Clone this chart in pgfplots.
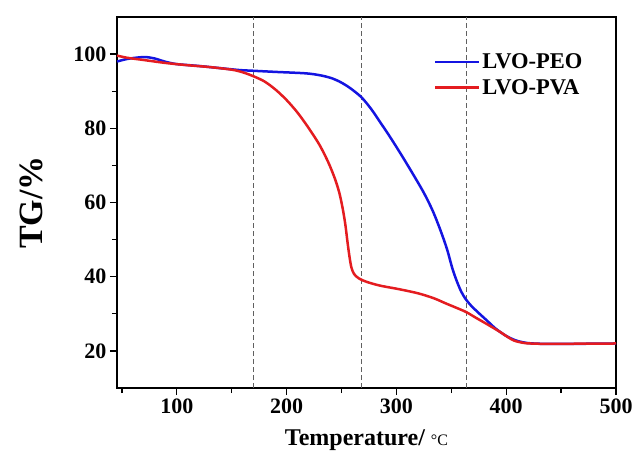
\documentclass[border=0pt]{standalone}
\usepackage{fontspec}
\setmainfont{Liberation Serif}
\usepackage{pgfplots}
\pgfplotsset{compat=1.18}
\definecolor{cblue}{RGB}{20,20,225}
\definecolor{cred}{RGB}{228,28,32}
\begin{document}
\begin{tikzpicture}
\begin{axis}[
  scale only axis, width=499pt, height=371pt,
  xmin=45.5, xmax=500, ymin=10, ymax=110,
  xtick={100,200,300,400,500}, minor xtick={50,150,250,350,450},
  ytick={20,40,60,80,100}, minor ytick={30,50,70,90},
  tick pos=left, tick align=outside,
  major tick length=7pt, minor tick length=5pt,
  every tick/.style={black, line width=1.3pt},
  axis line style={line width=1.7pt},
  /pgf/number format/assume math mode=true,
  ticklabel style={font=\fontsize{22}{24}\selectfont\bfseries},
  xlabel={Temperature/ {\mdseries\fontsize{16}{18}\selectfont °C}},
  ylabel={TG/\%},
  xlabel style={font=\fontsize{24}{26}\selectfont\bfseries, at={(axis description cs:0.5,-0.14)}, anchor=center},
  ylabel style={font=\fontsize{34}{36}\selectfont\bfseries, at={(axis description cs:-0.172,0.5)}, anchor=center},
  legend style={draw=none, fill=none, at={(rel axis cs:0.943,0.912)}, anchor=north east,
    font=\fontsize{22.5}{24}\selectfont\bfseries, row sep=5pt, nodes={inner sep=2pt}},
  legend cell align=left,
  legend image code/.code={\draw[#1] (0pt,0pt) -- (44pt,0pt);},
]
\coordinate (sw) at (rel axis cs:0,0);
\coordinate (ne) at (rel axis cs:1,1);
\addplot[gray!75!black, dash pattern=on 5pt off 3pt, line width=1pt, forget plot] coordinates {(170,10) (170,110)};
\addplot[gray!75!black, dash pattern=on 5pt off 3pt, line width=1pt, forget plot] coordinates {(268,10) (268,110)};
\addplot[gray!75!black, dash pattern=on 5pt off 3pt, line width=1pt, forget plot] coordinates {(364,10) (364,110)};
\addplot[cblue, line width=2.5pt, smooth, tension=0.5] coordinates {
(45.5,98.0) (55,98.7) (65,99.1) (72,99.2) (80,98.8) (90,97.9) (100,97.3) (120,96.8) (140,96.2)
(157,95.7) (170,95.5) (190,95.2) (218,94.8) (232,94.2) (242,93.4) (250,92.3) (258,90.8)
(268,88.4) (277,85.2) (286,81.3) (295,77.3) (305,72.6) (315,67.7) (325,62.6) (333,57.8)
(340,52.6) (346,47.5) (351,42.2) (355,38.8) (359,36.0) (363,34.0) (368,32.2) (375,30.2) (382,28.3)
(390,26.1) (396,24.8) (402,23.7) (410,22.7) (420,22.1) (435,21.9) (460,21.9) (500,22.0)};
\addlegendentry{LVO-PEO}
\addplot[cred, line width=2.5pt, smooth, tension=0.5] coordinates {
(45.5,99.6) (55,99.0) (70,98.4) (90,97.6) (110,97.0) (130,96.5) (150,95.8) (160,95.1)
(170,94.0) (180,92.6) (190,90.4) (200,87.6) (210,84.2) (220,80.1) (230,75.5) (238,70.8)
(244,66.4) (248,62.6) (251,58.5) (253.5,54) (255.5,49.2) (257.3,45.3) (259,42.5) (261.5,40.7)
(266,39.5) (273,38.6) (285,37.6) (303,36.6) (320,35.5)
(334,34.2) (345,32.8) (358,31.2) (364,30.4) (372,29) (382,27.3) (390,25.9) (395,25.0)
(400,24.0) (407,22.8) (415,22.2) (422,22.0) (440,21.9) (500,22.0)};
\addlegendentry{LVO-PVA}
\end{axis}
\pgfresetboundingbox
\path ([shift={(-117pt,-72pt)}]sw) rectangle ([shift={(22pt,17pt)}]ne);
\end{tikzpicture}
\end{document}
